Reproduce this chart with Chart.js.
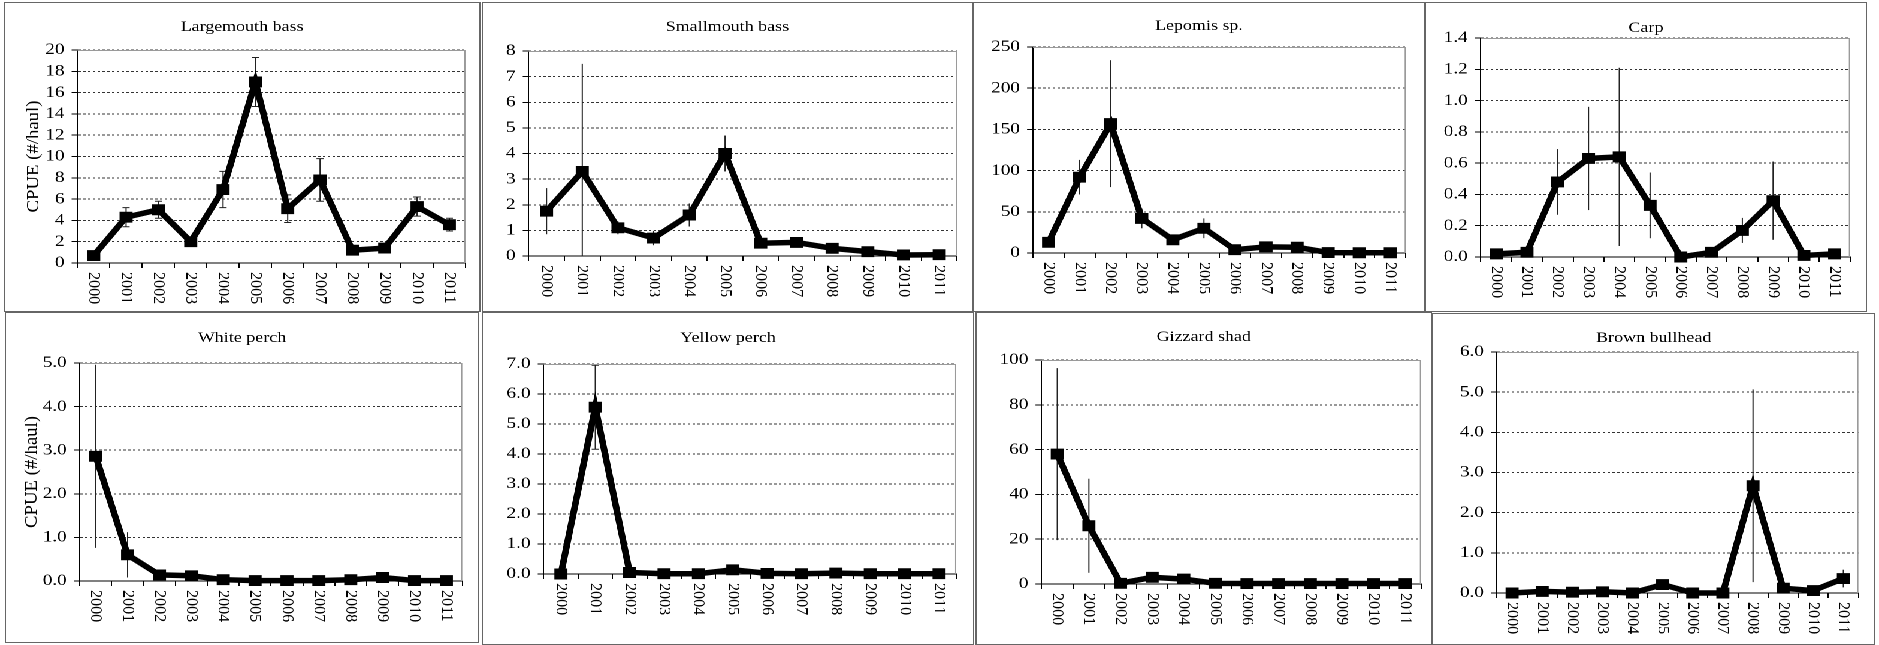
<!DOCTYPE html>
<html>
<head>
<meta charset="utf-8">
<script src="https://cdn.jsdelivr.net/npm/chart.js@4.4.1/dist/chart.umd.min.js"></script>
<style>
html, body { margin: 0; padding: 0; background: #fff; }
body { width: 1879px; height: 645px; overflow: hidden; position: relative; }
#wrap { position: absolute; left: 0; top: 0; width: 1568px; height: 645px; transform-origin: 0 0; }
#wrap canvas { position: absolute; }
</style>
</head>
<body>
<div id="wrap"></div>
<script>
// categories
const years = ['2000', '2001', '2002', '2003', '2004', '2005', '2006', '2007', '2008', '2009', '2010', '2011'];

// mean CPUE and error (+/-) per species
const largemouthMean = [0.7, 4.3, 5.0, 2.0, 6.9, 17.0, 5.1, 7.8, 1.2, 1.4, 5.3, 3.6];
const largemouthErr  = [0.1, 0.9, 0.8, 0.2, 1.7, 2.3, 1.3, 2.0, 0.2, 0.3, 0.9, 0.6];
const smallmouthMean = [1.75, 3.3, 1.1, 0.7, 1.6, 4.0, 0.5, 0.53, 0.3, 0.17, 0.04, 0.05];
const smallmouthErr  = [0.9, 4.2, 0.25, 0.28, 0.45, 0.7, 0.05, 0.05, 0.05, 0.05, 0.02, 0.02];
const lepomisMean = [13, 92, 157, 42, 16, 30, 4, 7.5, 7, 0.5, 0.3, 0.3];
const lepomisErr  = [3, 21, 77, 12, 3, 12, 1, 2, 2, 0.3, 0.2, 0.2];
const carpMean = [0.02, 0.03, 0.48, 0.63, 0.64, 0.33, 0.0, 0.03, 0.17, 0.36, 0.01, 0.02];
const carpErr  = [0.01, 0.02, 0.21, 0.33, 0.57, 0.21, 0, 0.02, 0.08, 0.25, 0.01, 0.01];
const whitePerchMean = [2.86, 0.6, 0.14, 0.12, 0.03, 0.01, 0.01, 0.01, 0.03, 0.08, 0.01, 0.01];
const whitePerchErr  = [2.1, 0.52, 0.03, 0.03, 0.02, 0.01, 0.01, 0.01, 0.02, 0.04, 0.01, 0.01];
const yellowPerchMean = [0.0, 5.56, 0.05, 0.01, 0.01, 0.14, 0.02, 0.01, 0.03, 0.01, 0.01, 0.01];
const yellowPerchErr  = [0, 1.4, 0.03, 0.01, 0.01, 0.05, 0.01, 0, 0.02, 0, 0, 0];
const gizzardMean = [58, 26, 0.3, 3, 2.2, 0.3, 0.2, 0.2, 0.2, 0.2, 0.2, 0.2];
const gizzardErr  = [38.4, 21, 0.2, 1, 1, 0.2, 0.1, 0.1, 0.1, 0.1, 0.1, 0.1];
const bullheadMean = [0.0, 0.04, 0.02, 0.03, 0.0, 0.21, 0.0, 0.0, 2.67, 0.12, 0.06, 0.36];
const bullheadErr  = [0, 0.03, 0.02, 0.02, 0, 0.06, 0, 0, 2.4, 0.06, 0.04, 0.22];

const yAxisTitle = 'CPUE (#/haul)';

// horizontal stretch of the original picture
const SX = 1879 / 1568;
const FONT = 'Liberation Serif';
const FSIZE = 15;

const wrap = document.getElementById('wrap');
wrap.style.transform = 'scaleX(' + SX + ')';

// draws error bars under the line
const errorBars = {
    id: 'errorBars',
    beforeDatasetsDraw(chart, args, opts) {
        const ctx = chart.ctx;
        const xs = chart.scales.x, ys = chart.scales.y;
        const data = chart.data.datasets[0].data;
        ctx.save();
        ctx.strokeStyle = '#222';
        ctx.lineWidth = 1;
        opts.err.forEach(function(e, i) {
            if (!e) return;
            const x = xs.getPixelForValue(i);
            const top = ys.getPixelForValue(Math.min(data[i] + e, ys.max));
            const bot = ys.getPixelForValue(Math.max(data[i] - e, ys.min));
            ctx.beginPath();
            ctx.moveTo(x, top);
            ctx.lineTo(x, bot);
            if (opts.cap) {
                ctx.moveTo(x - opts.cap, top);
                ctx.lineTo(x + opts.cap, top);
                ctx.moveTo(x - opts.cap, bot);
                ctx.lineTo(x + opts.cap, bot);
            }
            ctx.stroke();
        });
        ctx.restore();
    }
};

// title, frame, plot border, y title and rotated year labels
const decorations = {
    id: 'decorations',
    afterDraw(chart, args, opts) {
        const ctx = chart.ctx;
        const area = chart.chartArea;
        const xs = chart.scales.x;
        ctx.save();
        // plot area top/right border
        ctx.strokeStyle = '#9a9a9a';
        ctx.lineWidth = 1;
        ctx.beginPath();
        ctx.moveTo(area.left, area.top + 0.5);
        ctx.lineTo(area.right - 0.5, area.top + 0.5);
        ctx.lineTo(area.right - 0.5, area.bottom);
        ctx.stroke();
        // panel frame
        ctx.strokeStyle = '#666';
        ctx.strokeRect(0.5, 0.5, chart.width - 1, chart.height - 1);
        // title
        ctx.fillStyle = '#000';
        ctx.font = FSIZE + 'px "' + FONT + '"';
        ctx.textAlign = 'center';
        ctx.textBaseline = 'middle';
        ctx.fillText(opts.title, chart.width / 2, opts.titleY);
        // y axis title, reading upwards
        if (opts.yTitle) {
            ctx.save();
            ctx.translate(opts.yTitleX, (area.top + area.bottom) / 2);
            ctx.rotate(-Math.PI / 2);
            ctx.scale(1.25, 1);
            ctx.fillText(opts.yTitle, 0, 0);
            ctx.restore();
        }
        // year labels, reading downwards
        ctx.font = '14px "' + FONT + '"';
        ctx.textAlign = 'left';
        chart.data.labels.forEach(function(lab, i) {
            const x = xs.getPixelForValue(i);
            ctx.save();
            ctx.translate(x, xs.top + 9);
            ctx.rotate(Math.PI / 2);
            ctx.scale(1.15, 1);
            ctx.fillText(lab, 0, 0);
            ctx.restore();
        });
        ctx.restore();
    }
};

function makeChart(p) {
    const f = p.frame, a = p.plot;
    const W = Math.round((f[2] - f[0]) / SX), H = f[3] - f[1];
    const yW = (a[0] - f[0]) / SX;
    const padR = (f[2] - a[2]) / SX;
    const padT = a[1] - f[1];
    const xH = f[3] - a[3];

    const canvas = document.createElement('canvas');
    canvas.width = W;
    canvas.height = H;
    canvas.style.left = (f[0] / SX) + 'px';
    canvas.style.top = f[1] + 'px';
    canvas.style.width = W + 'px';
    canvas.style.height = H + 'px';
    wrap.appendChild(canvas);

    new Chart(canvas, {
        type: 'line',
        data: {
            labels: years,
            datasets: [{
                data: p.mean,
                borderColor: '#000',
                backgroundColor: '#000',
                borderWidth: 5.5,
                pointStyle: 'rect',
                pointRadius: 7,
                pointBorderWidth: 1,
                pointBorderColor: '#000',
                pointBackgroundColor: '#000',
                tension: 0,
                clip: false
            }]
        },
        options: {
            responsive: false,
            animation: false,
            devicePixelRatio: 2,
            layout: { padding: { left: 0, right: padR, top: padT, bottom: 0 } },
            plugins: {
                legend: { display: false },
                tooltip: { enabled: false },
                errorBars: { err: p.err, cap: p.cap },
                decorations: {
                    title: p.title,
                    titleY: p.titleY - f[1],
                    yTitle: p.yTitle,
                    yTitleX: p.yTitle ? (p.yTitleX - f[0]) / SX : 0
                }
            },
            scales: {
                x: {
                    type: 'category',
                    offset: true,
                    grid: { offset: true, drawOnChartArea: false, drawTicks: true, tickLength: 5, tickColor: '#000' },
                    border: { color: '#000', width: 1 },
                    ticks: { display: false },
                    afterFit: function(s) { s.height = xH; }
                },
                y: {
                    min: p.min,
                    max: p.max,
                    ticks: {
                        stepSize: p.step,
                        autoSkip: false,
                        maxTicksLimit: 40,
                        padding: 6,
                        color: '#000',
                        font: { family: FONT, size: FSIZE + 1, lineHeight: 1 },
                        callback: function(v) { return v.toFixed(p.dec); }
                    },
                    grid: { color: '#333', lineWidth: 1, tickColor: '#000', tickLength: 5 },
                    border: { color: '#000', width: 1, dash: [2, 2] },
                    afterFit: function(s) { s.width = yW; }
                }
            }
        },
        plugins: [errorBars, decorations]
    });
}

Chart.defaults.font.family = FONT;

makeChart({ title: 'Largemouth bass', mean: largemouthMean, err: largemouthErr, cap: 3,
    min: 0, max: 20, step: 2, dec: 0, yTitle: yAxisTitle, yTitleX: 33,
    frame: [3, 2, 480, 312], plot: [77, 50, 465, 263], titleY: 27 });
makeChart({ title: 'Smallmouth bass', mean: smallmouthMean, err: smallmouthErr, cap: 0,
    min: 0, max: 8, step: 1, dec: 0,
    frame: [482, 2, 973, 312], plot: [529, 51, 957, 256], titleY: 27 });
makeChart({ title: 'Lepomis sp.', mean: lepomisMean, err: lepomisErr, cap: 0,
    min: 0, max: 250, step: 50, dec: 0,
    frame: [973, 2, 1425, 312], plot: [1033, 47, 1406, 253], titleY: 26 });
makeChart({ title: 'Carp', mean: carpMean, err: carpErr, cap: 0,
    min: 0, max: 1.4, step: 0.2, dec: 1,
    frame: [1425, 2, 1867, 312], plot: [1481, 38, 1850, 257], titleY: 28 });
makeChart({ title: 'White perch', mean: whitePerchMean, err: whitePerchErr, cap: 0,
    min: 0, max: 5, step: 1, dec: 1, yTitle: yAxisTitle, yTitleX: 32,
    frame: [5, 312, 480, 643], plot: [80, 363, 463, 581], titleY: 338 });
makeChart({ title: 'Yellow perch', mean: yellowPerchMean, err: yellowPerchErr, cap: 3,
    min: 0, max: 7, step: 1, dec: 1,
    frame: [482, 312, 975, 645], plot: [544, 364, 957, 574], titleY: 338 });
makeChart({ title: 'Gizzard shad', mean: gizzardMean, err: gizzardErr, cap: 0,
    min: 0, max: 100, step: 20, dec: 0,
    frame: [975, 312, 1432, 645], plot: [1041, 360, 1421, 584], titleY: 337 });
makeChart({ title: 'Brown bullhead', mean: bullheadMean, err: bullheadErr, cap: 0,
    min: 0, max: 6, step: 1, dec: 1,
    frame: [1432, 313, 1875, 645], plot: [1497, 352, 1858, 593], titleY: 338 });
</script>
</body>
</html>
